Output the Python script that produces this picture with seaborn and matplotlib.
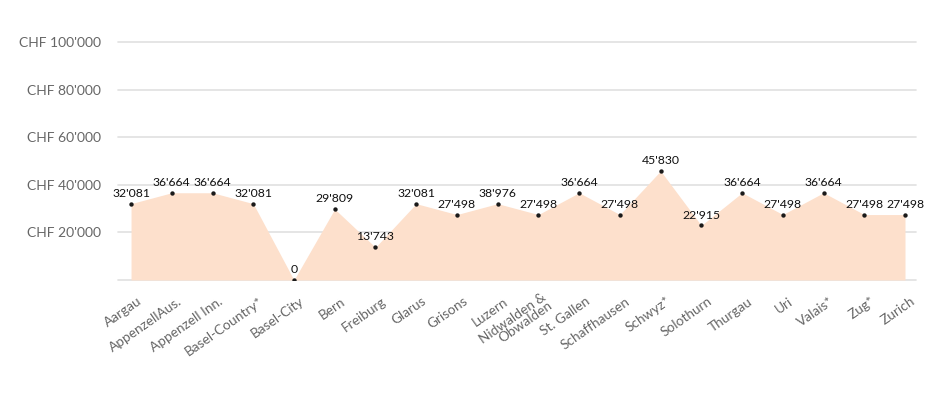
import numpy as np
import matplotlib
matplotlib.use("Agg")
import matplotlib.pyplot as plt
import matplotlib.transforms as mtransforms
import seaborn as sns

cantons = ['Aargau', 'AppenzellAus.', 'Appenzell Inn.', 'Basel-Country*', 'Basel-City',
           'Bern', 'Freiburg', 'Glarus', 'Grisons', 'Luzern', 'Nidwalden &\nObwalden',
           'St. Gallen', 'Schaffhausen', 'Schwyz*', 'Solothurn', 'Thurgau', 'Uri',
           'Valais*', 'Zug*', 'Zurich']
# plotted heights (Luzern's point sits at the Glarus level in the source)
values = [32081, 36664, 36664, 32081, 0, 29809, 13743, 32081, 27498, 32081, 27498,
          36664, 27498, 45830, 22915, 36664, 27498, 36664, 27498, 27498]
# numbers printed above the points
labels = [32081, 36664, 36664, 32081, 0, 29809, 13743, 32081, 27498, 38976, 27498,
          36664, 27498, 45830, 22915, 36664, 27498, 36664, 27498, 27498]
yticks = [20000, 40000, 60000, 80000, 100000]


def swiss(n):
    return f"{n:,}".replace(",", "'")


sns.set_style("white")
plt.rcParams['font.family'] = ['Lato', 'DejaVu Sans']

fig = plt.figure(figsize=(9.5, 4), dpi=100)
ax = fig.add_axes([118 / 950, 120 / 400, 798 / 950, 238 / 400])

x = np.arange(len(cantons))
ax.fill_between(x, values, color='#fde0cc', linewidth=0, zorder=1)
sns.scatterplot(x=x, y=values, ax=ax, color='#1a1a1a', s=10, linewidth=0, zorder=3)

for xi, v, lab in zip(x, values, labels):
    ax.annotate(swiss(lab), (xi, v), xytext=(0, 3.5), textcoords='offset points',
                ha='center', va='bottom', fontsize=8.8, color='#111111', zorder=4)

for t in [0] + yticks:
    ax.axhline(t, color='#e0e0e0', linewidth=1.2, zorder=0, clip_on=False)

ax.set_xlim(-0.32, len(cantons) - 1 + 0.27)
ax.set_ylim(0, 100000)
ax.set_yticks(yticks)
ax.set_yticklabels([f"CHF {swiss(t)}" for t in yticks], fontsize=10, color='#666666')
ax.set_xticks(x)
ax.set_xticklabels([])

# category labels, rotated and anchored by their right end below each tick
base = mtransforms.blended_transform_factory(ax.transData, ax.transAxes)
shift = mtransforms.ScaledTranslation(9 / 100, -20 / 100, fig.dpi_scale_trans)
for xi, name in zip(x, cantons):
    ax.text(xi, 0, name, transform=base + shift, rotation=35, rotation_mode='anchor',
            ha='right', va='center', fontsize=9.8, color='#666666', linespacing=0.9)

ax.tick_params(axis='y', length=0, pad=12)
ax.tick_params(axis='x', length=0)
for s in ax.spines.values():
    s.set_visible(False)

fig.savefig('out.png', dpi=100)
